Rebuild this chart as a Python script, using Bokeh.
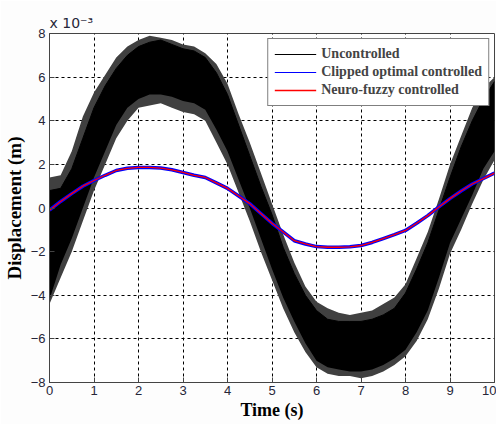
from bokeh.plotting import figure
from bokeh.models import Legend, LegendItem, FixedTicker, Range1d
from bokeh.embed import file_html
from bokeh.resources import INLINE

# time axis (s)
t = [0, 0.25, 0.5, 0.75, 1.0, 1.25, 1.5, 1.75, 2.0, 2.25, 2.5, 2.75, 3.0, 3.25, 3.5, 3.75,
     4.0, 4.25, 4.5, 4.75, 5.0, 5.25, 5.5, 5.75, 6.0, 6.25, 6.5, 6.75, 7.0, 7.25, 7.5, 7.75,
     8.0, 8.25, 8.5, 8.75, 9.0, 9.25, 9.5, 9.75, 10.0]
# uncontrolled response: upper / lower envelope of the dense noisy band (x 1e-3 m)
unc_upper = [0.8, 0.9, 1.8, 3.2, 4.6, 5.6, 6.4, 7.0, 7.4, 7.6, 7.7, 7.5, 7.3, 7.2, 6.9, 6.2,
             5.2, 3.8, 2.4, 1.0, -0.3, -1.8, -3.0, -4.0, -4.7, -5.1, -5.2, -5.2, -5.2, -5.1, -4.9, -4.6,
             -3.9, -2.8, -1.6, -0.1, 1.4, 2.8, 4.0, 5.0, 5.8]
unc_lower = [-4.2, -2.6, -1.4, 0.0, 1.4, 2.6, 3.8, 4.6, 5.0, 5.2, 5.2, 5.1, 4.9, 4.8, 4.5, 3.6,
             2.6, 1.3, 0.0, -1.4, -2.8, -4.1, -5.2, -6.2, -7.0, -7.3, -7.4, -7.5, -7.5, -7.4, -7.2, -6.9,
             -6.5, -5.7, -4.7, -3.2, -1.6, -0.5, 0.6, 1.8, 2.6]
# uncontrolled response: extent of the sparse spikes around the band (x 1e-3 m)
spike_upper = [1.4, 1.5, 2.6, 4.2, 5.3, 6.1, 6.9, 7.4, 7.7, 7.9, 7.8, 7.7, 7.5, 7.4, 7.1, 6.6,
               5.7, 4.3, 3.0, 1.6, 0.2, -1.2, -2.5, -3.6, -4.3, -4.6, -4.8, -4.9, -4.8, -4.7, -4.4, -4.1,
               -3.5, -2.3, -1.1, 0.4, 2.0, 3.3, 4.6, 5.5, 6.0]
spike_lower = [-4.4, -3.2, -2.0, -0.6, 0.8, 2.0, 3.2, 4.0, 4.6, 4.7, 4.8, 4.6, 4.4, 4.3, 4.0, 3.0,
               2.0, 0.7, -0.6, -2.0, -3.3, -4.6, -5.7, -6.6, -7.3, -7.6, -7.7, -7.7, -7.8, -7.7, -7.5, -7.2,
               -6.8, -6.1, -5.1, -3.7, -2.1, -1.0, 0.2, 1.3, 2.2]
# clipped optimal controlled (x 1e-3 m)
clipped = [-0.1, 0.3, 0.66, 1.0, 1.26, 1.5, 1.72, 1.82, 1.86, 1.86, 1.83, 1.75, 1.63, 1.5, 1.4, 1.15,
           0.9, 0.55, 0.2, -0.25, -0.7, -1.1, -1.5, -1.65, -1.77, -1.8, -1.8, -1.78, -1.72, -1.58, -1.4, -1.22,
           -1.03, -0.7, -0.35, 0.05, 0.43, 0.78, 1.1, 1.35, 1.6]
# neuro-fuzzy controlled (x 1e-3 m)
neuro = [-0.1, 0.3, 0.66, 1.0, 1.26, 1.5, 1.72, 1.82, 1.86, 1.86, 1.83, 1.75, 1.63, 1.5, 1.4, 1.15,
         0.9, 0.55, 0.2, -0.25, -0.7, -1.1, -1.5, -1.65, -1.77, -1.8, -1.8, -1.78, -1.72, -1.58, -1.4, -1.22,
         -1.03, -0.7, -0.35, 0.05, 0.43, 0.78, 1.1, 1.35, 1.6]

x_ticks = [0, 1, 2, 3, 4, 5, 6, 7, 8, 9, 10]
y_ticks = [-8, -6, -4, -2, 0, 2, 4, 6, 8]

p = figure(width=496, height=424, output_backend="svg", toolbar_location=None,
           x_range=Range1d(0, 10), y_range=Range1d(-8, 8),
           min_border_left=49, min_border_right=2, min_border_top=33, min_border_bottom=42)
p.background_fill_color = "white"
p.border_fill_color = "#fdfdfd"
p.outline_line_color = "#444444"
p.outline_line_width = 1

# axis multiplier shown above the axis like MATLAB
p.title.text = "x 10\u207b\u00b3"
p.title.text_font = "DejaVu Sans"
p.title.text_font_size = "14px"
p.title.text_font_style = "normal"
p.title.text_color = "#262638"
p.title.align = "left"
p.title.offset = 0
p.title.standoff = 5

p.varea(x=t, y1=spike_lower, y2=spike_upper, fill_color="#404040")
p.varea(x=t, y1=unc_lower, y2=unc_upper, fill_color="black")
r_unc = p.line(x=t, y=unc_upper, line_color="black", line_width=1)
r_clip_leg = p.line(x=t, y=clipped, line_color="#0000ff", line_width=1)
p.line(x=t, y=clipped, line_color="#0000ff", line_width=3.5)
r_neuro = p.line(x=t, y=neuro, line_color="#ff0000", line_width=1.3)

for ax in (p.xaxis[0], p.yaxis[0]):
    ax.major_label_text_font = "Liberation Sans"
    ax.major_label_text_font_size = "13px"
    ax.major_label_text_color = "#262638"
    ax.major_tick_in = 5
    ax.major_tick_out = 0
    ax.minor_tick_in = 0
    ax.minor_tick_out = 0
    ax.axis_line_color = "#444444"
    ax.major_tick_line_color = "#444444"
    ax.axis_label_text_font = "Liberation Serif"
    ax.axis_label_text_font_style = "bold"
    ax.axis_label_text_color = "black"

p.xaxis.ticker = FixedTicker(ticks=x_ticks)
p.yaxis.ticker = FixedTicker(ticks=y_ticks)
p.xaxis.axis_label = "Time (s)"
p.xaxis.axis_label_text_font_size = "18px"
p.xaxis.axis_label_standoff = 2
p.xaxis.major_label_standoff = 3
p.yaxis.axis_label = "Displacement (m)"
p.yaxis.axis_label_text_font_size = "19px"
p.yaxis.axis_label_standoff = 3
p.yaxis.major_label_standoff = 4

p.xgrid.ticker = FixedTicker(ticks=x_ticks)
p.ygrid.ticker = FixedTicker(ticks=y_ticks)
for g in (p.xgrid[0], p.ygrid[0]):
    g.grid_line_color = "black"
    g.grid_line_dash = "3 3"
    g.grid_line_width = 1

legend = Legend(items=[
    LegendItem(label="Uncontrolled", renderers=[r_unc]),
    LegendItem(label="Clipped optimal controlled", renderers=[r_clip_leg]),
    LegendItem(label="Neuro-fuzzy controlled", renderers=[r_neuro]),
], location="top_right")
legend.label_text_font = "Liberation Serif"
legend.label_text_font_style = "bold"
legend.label_text_font_size = "14px"
legend.glyph_width = 42
legend.glyph_height = 18
legend.label_height = 18
legend.label_standoff = 5
legend.spacing = 0
legend.padding = 6
legend.margin = 5
legend.border_line_color = "black"
legend.border_line_width = 1
legend.background_fill_color = "white"
legend.background_fill_alpha = 1
p.add_layout(legend)

open("out.html", "w").write(file_html(p, INLINE))
